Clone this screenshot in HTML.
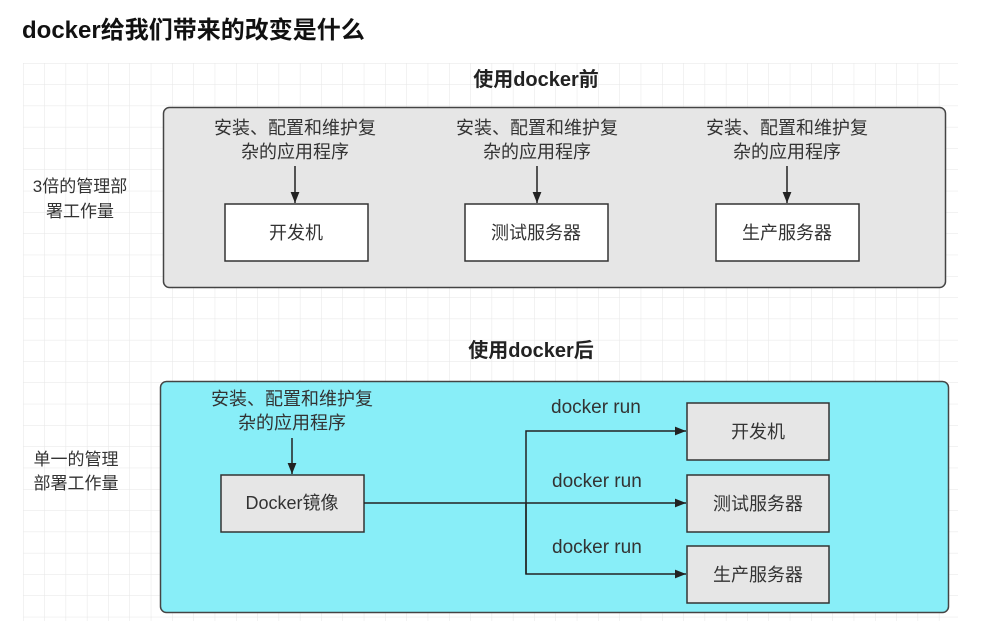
<!DOCTYPE html>
<html><head><meta charset="utf-8"><style>
html,body{margin:0;padding:0;background:#fff;}
svg{display:block;}
text{font-family:"Liberation Sans","Noto Sans CJK SC",sans-serif;}
</style></head><body>
<svg width="998" height="635" viewBox="0 0 998 635" xmlns="http://www.w3.org/2000/svg">
<defs>
<pattern id="g" x="23" y="63" width="21.3" height="21.3" patternUnits="userSpaceOnUse">
<path d="M0 0H21.3M0 0V21.3" stroke="#e6e6e6" stroke-width="1" fill="none"/>
</pattern>
<marker id="a" viewBox="0 0 10 10" refX="10" refY="5" markerWidth="11" markerHeight="11" orient="auto" markerUnits="userSpaceOnUse"><path d="M0 1L10 5L0 9z" fill="#222"/></marker>
</defs>
<rect x="0" y="0" width="998" height="635" fill="#fff"/>
<rect x="23" y="63" width="935" height="558" fill="url(#g)"/>
<text x="22" y="38" font-size="24" font-weight="bold" fill="#111">docker给我们带来的改变是什么</text>

<text x="536" y="86" font-size="20" font-weight="bold" fill="#222" text-anchor="middle">使用docker前</text>
<rect x="163.5" y="107.5" width="782" height="180" rx="6" fill="#e6e6e6" stroke="#444" stroke-width="1.5"/>
<text x="80" y="192" font-size="17" fill="#333" text-anchor="middle">3倍的管理部</text>
<text x="80" y="217" font-size="17" fill="#333" text-anchor="middle">署工作量</text>
<g font-size="18" fill="#333" text-anchor="middle">
<text x="295" y="134">安装、配置和维护复</text><text x="295" y="158">杂的应用程序</text>
<text x="537" y="134">安装、配置和维护复</text><text x="537" y="158">杂的应用程序</text>
<text x="787" y="134">安装、配置和维护复</text><text x="787" y="158">杂的应用程序</text>
</g>
<g stroke="#222" stroke-width="1.5">
<line x1="295" y1="166" x2="295" y2="203" marker-end="url(#a)"/>
<line x1="537" y1="166" x2="537" y2="203" marker-end="url(#a)"/>
<line x1="787" y1="166" x2="787" y2="203" marker-end="url(#a)"/>
</g>
<g fill="#fff" stroke="#333" stroke-width="1.5">
<rect x="225" y="204" width="143" height="57"/>
<rect x="465" y="204" width="143" height="57"/>
<rect x="716" y="204" width="143" height="57"/>
</g>
<g font-size="18" fill="#333" text-anchor="middle">
<text x="296" y="239">开发机</text>
<text x="536" y="239">测试服务器</text>
<text x="787" y="239">生产服务器</text>
</g>

<text x="531" y="357" font-size="20" font-weight="bold" fill="#222" text-anchor="middle">使用docker后</text>
<rect x="160.5" y="381.5" width="788" height="231" rx="6" fill="#88eef8" stroke="#444" stroke-width="1.5"/>
<text x="76" y="465" font-size="17" fill="#333" text-anchor="middle">单一的管理</text>
<text x="76" y="489" font-size="17" fill="#333" text-anchor="middle">部署工作量</text>
<text x="292" y="405" font-size="18" fill="#333" text-anchor="middle">安装、配置和维护复</text>
<text x="292" y="429" font-size="18" fill="#333" text-anchor="middle">杂的应用程序</text>
<line x1="292" y1="438" x2="292" y2="474" stroke="#222" stroke-width="1.5" marker-end="url(#a)"/>
<rect x="221" y="475" width="143" height="57" fill="#e6e6e6" stroke="#333" stroke-width="1.5"/>
<text x="292" y="509" font-size="18" fill="#333" text-anchor="middle">Docker镜像</text>
<g stroke="#222" stroke-width="1.5" fill="none">
<line x1="364" y1="503" x2="686" y2="503" marker-end="url(#a)"/>
<path d="M526 574V431H686" marker-end="url(#a)"/>
<path d="M526 503V574H686" marker-end="url(#a)"/>
</g>
<g font-size="19" fill="#333">
<text x="551" y="413">docker run</text>
<text x="552" y="487">docker run</text>
<text x="552" y="553">docker run</text>
</g>
<g fill="#e6e6e6" stroke="#333" stroke-width="1.5">
<rect x="687" y="403" width="142" height="57"/>
<rect x="687" y="475" width="142" height="57"/>
<rect x="687" y="546" width="142" height="57"/>
</g>
<g font-size="18" fill="#333" text-anchor="middle">
<text x="758" y="438">开发机</text>
<text x="758" y="510">测试服务器</text>
<text x="758" y="581">生产服务器</text>
</g>
</svg>
</body></html>
